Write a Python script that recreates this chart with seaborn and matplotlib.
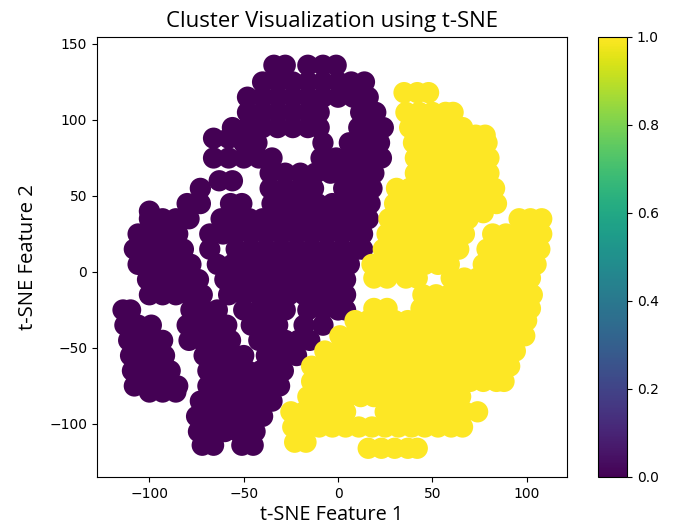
import matplotlib
matplotlib.use("Agg")
import matplotlib.pyplot as plt
import seaborn as sns
import pandas as pd
from matplotlib.colors import Normalize
from matplotlib.cm import ScalarMappable

# t-SNE embedding, one row of points per y level
# cluster 0 (purple): y -> x positions
cluster0_rows = {
    136: [-34, -28, -16, -8, -1],
    125: [-40, -32, -24, -16, -8, 0, 7, 14],
    115: [-48, -40, -32, -24, -16, -8, 0, 8, 16],
    105: [-48, -40, -32, -24, -16, -10, 12, 20],
    95: [-56, -48, -40, -32, -24, -16, -10, 11, 18, 24],
    88: [-66, -58],
    85: [-50, -43, -8, 6, 14, 22],
    75: [-66, -58, -50, -42, -35, -9, -1, 7, 15, 23],
    65: [-36, -28, -20, -12, -4, 4, 12, 19],
    60: [-63, -56],
    55: [-73, -36, -28, -20, -13, 3, 10, 18],
    45: [-80, -73, -57, -51, -35, -27, -19, -11, -3, 5, 12, 17],
    40: [-100],
    35: [-100, -93, -86, -79, -62, -55, -47, -40, -32, -24, -16, -8, 0, 8, 16],
    25: [-106, -99, -92, -85, -68, -61, -54, -46, -38, -30, -22, -14, -6, 2, 10, 13],
    15: [-108, -101, -94, -87, -82, -68, -54, -46, -38, -30, -22, -14, -6, 2, 10, 13],
    5: [-106, -99, -92, -85, -78, -64, -56, -48, -40, -32, -24, -16, -8, 0, 6],
    -5: [-101, -94, -87, -80, -74, -60, -52, -44, -36, -28, -20, -12, -4, 4],
    -15: [-100, -93, -86, -79, -72, -58, -50, -42, -34, -26, -18, -10, -2, 4],
    -25: [-114, -110, -78, -71, -64, -50, -42, -35, -28, -16, -8, 0, 4],
    -35: [-113, -106, -99, -80, -73, -66, -59, -46, -39, -32, -18, -8],
    -45: [-111, -104, -97, -93, -79, -72, -65, -57, -42, -35, -28, -21, -15],
    -55: [-110, -103, -96, -92, -71, -64, -57, -50, -38, -30, -22],
    -65: [-109, -102, -95, -89, -69, -62, -55, -48, -41, -34, -29],
    -75: [-108, -101, -94, -87, -85, -69, -62, -55, -48, -41, -34, -31],
    -79: [-100, -93, -86],
    -85: [-73, -66, -59, -52, -45, -38, -35],
    -95: [-75, -68, -61, -54, -47, -40],
    -105: [-74, -67, -60, -53, -46, -44],
    -114: [-72, -66, -51, -45],
}

# cluster 1 (yellow): y -> x positions
cluster1_rows = {
    118: [35, 42, 48],
    105: [36, 43, 50, 57, 61],
    95: [38, 45, 52, 59, 66],
    90: [73, 78],
    85: [40, 47, 54, 61, 68, 75, 79],
    75: [41, 48, 55, 62, 69, 76, 80],
    65: [41, 48, 55, 62, 69, 76, 80],
    55: [31, 38, 45, 52, 59, 66, 73, 80, 83],
    45: [30, 37, 44, 51, 58, 65, 72, 79, 84],
    39: [77],
    35: [27, 34, 41, 48, 55, 62, 69, 96, 102, 108],
    25: [26, 33, 40, 47, 54, 61, 67, 82, 89, 96, 103, 108],
    15: [24, 31, 38, 45, 52, 59, 64, 79, 86, 93, 100, 107],
    5: [18, 25, 32, 39, 46, 53, 59, 77, 84, 91, 98, 105],
    -4: [19, 26, 36, 42, 60, 67, 74, 81, 88, 95, 102],
    -15: [45, 52, 59, 66, 73, 80, 87, 94, 101, 103],
    -24: [19, 26, 44, 51, 58, 65, 72, 79, 86, 93, 100, 102],
    -32: [9, 16, 23, 30, 37, 44, 51, 58, 65, 72, 79, 86, 93, 100],
    -42: [1, 8, 15, 22, 29, 36, 43, 50, 57, 64, 71, 78, 85, 92, 99],
    -52: [-7, 0, 7, 14, 21, 28, 35, 42, 49, 56, 63, 70, 77, 84, 91, 94],
    -62: [-14, -7, 0, 7, 14, 21, 28, 35, 42, 49, 56, 63, 70, 77, 84, 91],
    -72: [-14, -7, 0, 7, 14, 21, 28, 35, 42, 49, 56, 63, 70, 77, 84, 88],
    -82: [-16, -9, -2, 5, 12, 19, 26, 33, 40, 47, 54, 61, 65],
    -92: [-25, -18, -11, -4, 4, 25, 32, 39, 46, 53, 60, 67, 74],
    -102: [-24, -17, -10, -3, 4, 11, 18, 25, 32, 39, 46, 53, 60, 66],
    -112: [-23, -17],
    -116: [16, 23, 30, 37, 42],
}

cluster_labels = [0, 1]
title = "Cluster Visualization using t-SNE"
x_label = "t-SNE Feature 1"
y_label = "t-SNE Feature 2"
cbar_ticks = [0.0, 0.2, 0.4, 0.6, 0.8, 1.0]

records = []
for label, rows in zip(cluster_labels, [cluster0_rows, cluster1_rows]):
    for y, xs in rows.items():
        for x in xs:
            records.append((x, y, label))
df = pd.DataFrame(records, columns=["x", "y", "cluster"])

fig = plt.figure(figsize=(6.73, 5.27), dpi=100)
ax = fig.add_axes([97 / 673, 1 - 477 / 527, 470 / 673, 440 / 527])
cax = fig.add_axes([598 / 673, 1 - 477 / 527, 29 / 673, 440 / 527])

sns.scatterplot(data=df, x="x", y="y", hue="cluster", palette="viridis",
                hue_norm=(0, 1), s=235, linewidth=0, edgecolor="none",
                legend=False, ax=ax)

ax.set_xlim(-127.8, 121.4)
ax.set_ylim(-134.9, 154.6)
ax.set_xticks([-100, -50, 0, 50, 100])
ax.set_yticks([-100, -50, 0, 50, 100, 150])

label_font = ["Open Sans", "DejaVu Sans"]
t = ax.set_title(title, fontsize=14, family=label_font, pad=7)
xl = ax.set_xlabel(x_label, fontsize=12, family=label_font, labelpad=3)
yl = ax.set_ylabel(y_label, fontsize=12, family=label_font, labelpad=8)

# scale text so its width matches the reference layout
fig.canvas.draw()
renderer = fig.canvas.get_renderer()
for txt, target, vertical in [(t, 331, False), (xl, 142, False), (yl, 145, True)]:
    bb = txt.get_window_extent(renderer)
    size = bb.height if vertical else bb.width
    txt.set_fontsize(txt.get_fontsize() * target / size)

sm = ScalarMappable(norm=Normalize(0, 1), cmap="viridis")
sm.set_array([])
cb = fig.colorbar(sm, cax=cax)
cb.set_ticks(cbar_ticks)

fig.savefig("out.png", dpi=100)
